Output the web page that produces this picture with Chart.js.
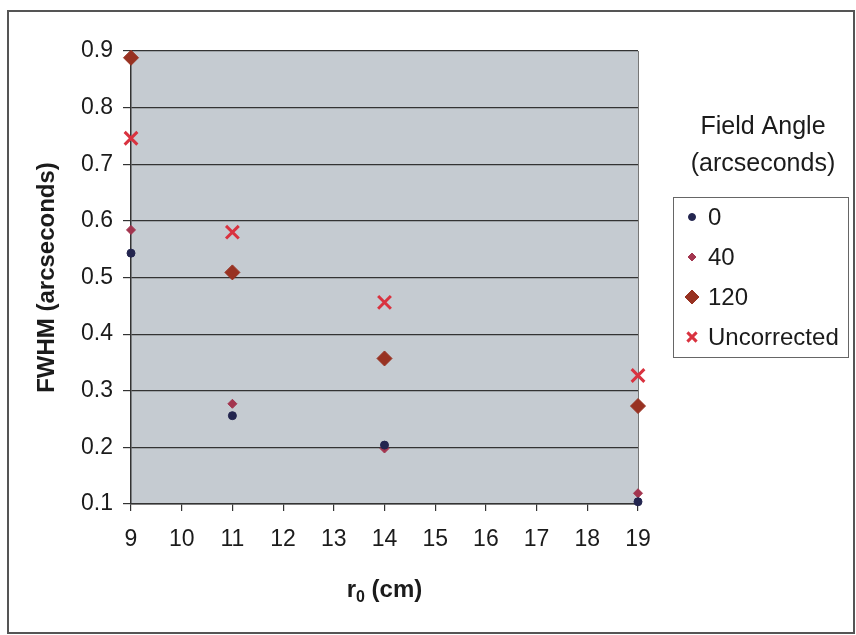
<!DOCTYPE html>
<html>
<head>
<meta charset="utf-8">
<script src="https://cdn.jsdelivr.net/npm/chart.js@4/dist/chart.umd.min.js"></script>
<style>
  html, body { margin: 0; padding: 0; background: #fff; }
  canvas { display: block; }
</style>
</head>
<body>
<canvas id="fwhmChart" width="856" height="635"></canvas>
<script>
// ===== data: FWHM vs r0 for each field angle =====
const r0 = [9, 11, 14, 19];
const fwhm0 = [0.543, 0.256, 0.204, 0.104];
const fwhm40 = [0.584, 0.277, 0.198, 0.119];
const fwhm120 = [0.888, 0.509, 0.357, 0.273];
const fwhmUncorrected = [0.746, 0.580, 0.456, 0.327];

const seriesNames = ['0', '40', '120', 'Uncorrected'];
const yTicks = [0.1, 0.2, 0.3, 0.4, 0.5, 0.6, 0.7, 0.8, 0.9];

const FONT = 'Arial, "Liberation Sans", sans-serif';
const TEXT = '#1b1b1b';

function pts(ys) {
    return r0.map((x, i) => ({ x: x, y: ys[i] }));
}

// ===== styling of each series =====
const styles = [
    { pointStyle: 'circle', radius: 4, color: '#23254f', border: 1 },
    { pointStyle: 'rectRot', radius: 4.5, color: '#a3354f', border: 1 },
    { pointStyle: 'rectRot', radius: 7.5, color: '#983222', border: 1 },
    { pointStyle: 'crossRot', radius: 9, color: '#d9323f', border: 3 }
];
const seriesData = [fwhm0, fwhm40, fwhm120, fwhmUncorrected];

const datasets = seriesData.map((ys, i) => ({
    label: seriesNames[i],
    data: pts(ys),
    pointStyle: styles[i].pointStyle,
    pointRadius: styles[i].radius,
    pointHoverRadius: styles[i].radius,
    backgroundColor: styles[i].color,
    borderColor: styles[i].color,
    pointBorderWidth: styles[i].border,
    showLine: false,
    clip: false
}));

// ===== gray plot area + outer frame =====
const frame = {
    id: 'frame',
    beforeDraw(chart) {
        const { ctx, chartArea: a } = chart;
        ctx.save();
        ctx.fillStyle = '#c5cbd1';
        ctx.fillRect(a.left, a.top, a.right - a.left, a.bottom - a.top);
        ctx.strokeStyle = '#777';
        ctx.lineWidth = 1;
        ctx.beginPath();
        ctx.moveTo(a.right + 0.5, a.top);
        ctx.lineTo(a.right + 0.5, a.bottom);
        ctx.stroke();
        ctx.restore();
    },
    afterDraw(chart) {
        const ctx = chart.ctx;
        ctx.save();
        ctx.strokeStyle = '#555';
        ctx.lineWidth = 2;
        ctx.strokeRect(8, 11, 846, 622);
        ctx.restore();
    }
};

// ===== x axis title with subscript =====
const xTitle = {
    id: 'xTitle',
    afterDraw(chart) {
        const { ctx, chartArea: a } = chart;
        const cx = (a.left + a.right) / 2;
        const y = 597;
        ctx.save();
        ctx.fillStyle = TEXT;
        ctx.textBaseline = 'alphabetic';
        const big = 'bold 24px ' + FONT;
        const small = 'bold 16px ' + FONT;
        ctx.font = big;
        const w1 = ctx.measureText('r').width;
        const w3 = ctx.measureText(' (cm)').width;
        ctx.font = small;
        const w2 = ctx.measureText('0').width;
        let x = cx - (w1 + w2 + w3) / 2;
        ctx.textAlign = 'left';
        ctx.font = big;
        ctx.fillText('r', x, y);
        x += w1;
        ctx.font = small;
        ctx.fillText('0', x, y + 5);
        x += w2;
        ctx.font = big;
        ctx.fillText(' (cm)', x, y);
        ctx.restore();
    }
};

// ===== legend box with two-line title =====
const legendBox = {
    id: 'legendBox',
    afterDraw(chart) {
        const ctx = chart.ctx;
        ctx.save();
        ctx.fillStyle = TEXT;
        ctx.font = '25px ' + FONT;
        ctx.textAlign = 'center';
        ctx.textBaseline = 'middle';
        ctx.fillText('Field Angle', 763, 127);
        ctx.fillText('(arcseconds)', 763, 164);

        ctx.strokeStyle = '#666';
        ctx.lineWidth = 1;
        ctx.strokeRect(673.5, 197.5, 175, 160);

        ctx.font = '24px ' + FONT;
        chart.data.datasets.forEach((ds, i) => {
            const y = 217 + i * 40;
            ctx.fillStyle = ds.backgroundColor;
            ctx.strokeStyle = ds.borderColor;
            ctx.lineWidth = ds.pointBorderWidth;
            Chart.helpers.drawPoint(ctx, {
                pointStyle: ds.pointStyle,
                radius: i === 3 ? 6.5 : ds.pointRadius - 0.5,
                borderWidth: ds.pointBorderWidth,
                rotation: 0
            }, 692, y);
            ctx.fillStyle = TEXT;
            ctx.textAlign = 'left';
            ctx.fillText(ds.label, 708, y + 1);
        });
        ctx.restore();
    }
};

new Chart(document.getElementById('fwhmChart'), {
    type: 'scatter',
    data: { datasets: datasets },
    plugins: [frame, xTitle, legendBox],
    options: {
        responsive: false,
        animation: false,
        layout: { padding: { left: 0, top: 51, right: 218, bottom: 0 } },
        plugins: {
            legend: { display: false },
            tooltip: { enabled: false }
        },
        scales: {
            x: {
                type: 'linear',
                min: 9,
                max: 19,
                afterFit: (s) => { s.height = 131; },
                ticks: {
                    stepSize: 1,
                    padding: 15,
                    color: TEXT,
                    font: { family: FONT, size: 23 }
                },
                grid: {
                    drawOnChartArea: false,
                    drawTicks: true,
                    tickLength: 7,
                    color: '#333',
                    lineWidth: 1.2
                },
                border: { display: true, color: '#333', width: 1.5 }
            },
            y: {
                type: 'linear',
                min: 0.1,
                max: 0.9,
                afterFit: (s) => { s.width = 131; },
                afterBuildTicks: (s) => { s.ticks = yTicks.map(v => ({ value: v })); },
                ticks: {
                    padding: 10,
                    color: TEXT,
                    font: { family: FONT, size: 23 },
                    callback: (v) => Number(v).toFixed(1)
                },
                grid: {
                    color: '#333',
                    lineWidth: 1.2,
                    tickLength: 8
                },
                border: { display: true, color: '#333', width: 1.5 },
                title: {
                    display: true,
                    text: 'FWHM (arcseconds)',
                    color: TEXT,
                    font: { family: FONT, size: 24, weight: 'bold' },
                    padding: { top: 33, bottom: 0 }
                }
            }
        }
    }
});
</script>
</body>
</html>
